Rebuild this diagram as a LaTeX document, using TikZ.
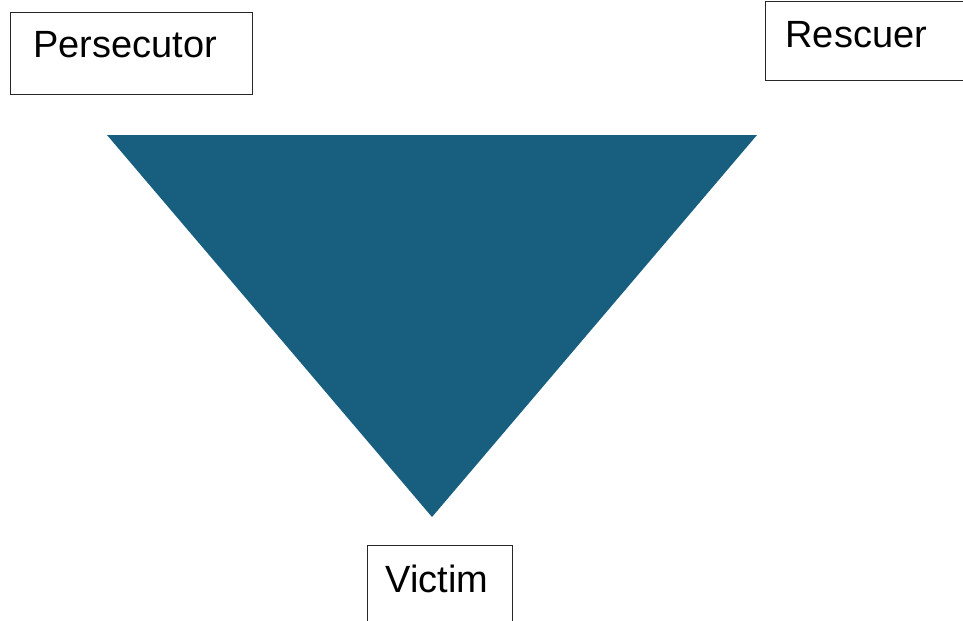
\documentclass[tikz,border=0pt]{standalone}
\usepackage{fontspec}
\setmainfont{Liberation Sans}
\definecolor{triblue}{RGB}{24,94,126}
\begin{document}
\begin{tikzpicture}[font=\fontsize{27}{32}\selectfont,
  role/.style={draw=black!85, line width=0.8pt, anchor=north west, inner ysep=0pt, align=left}]
  \useasboundingbox (0,0) rectangle (24.075,-15.5);
  \clip (0,0) rectangle (24.075,-15.5);
  \fill[triblue] (2.675,-3.375) -- (18.925,-3.375) -- (10.8,-12.925) -- cycle;
  \node[role, text width=4.9cm, inner xsep=0.575cm, text height=1.125cm, text depth=0.925cm] (pers) at (0.25,-0.3) {Persecutor};
  \node[role, text width=4.8cm, inner xsep=0.5cm, text height=1.15cm, text depth=0.825cm] (resc) at (19.125,-0.025) {Rescuer};
  \node[role, text width=2.725cm, inner xsep=0.45cm, text height=1.175cm, text depth=1.2cm] (vict) at (9.175,-13.625) {Victim};
\end{tikzpicture}
\end{document}
